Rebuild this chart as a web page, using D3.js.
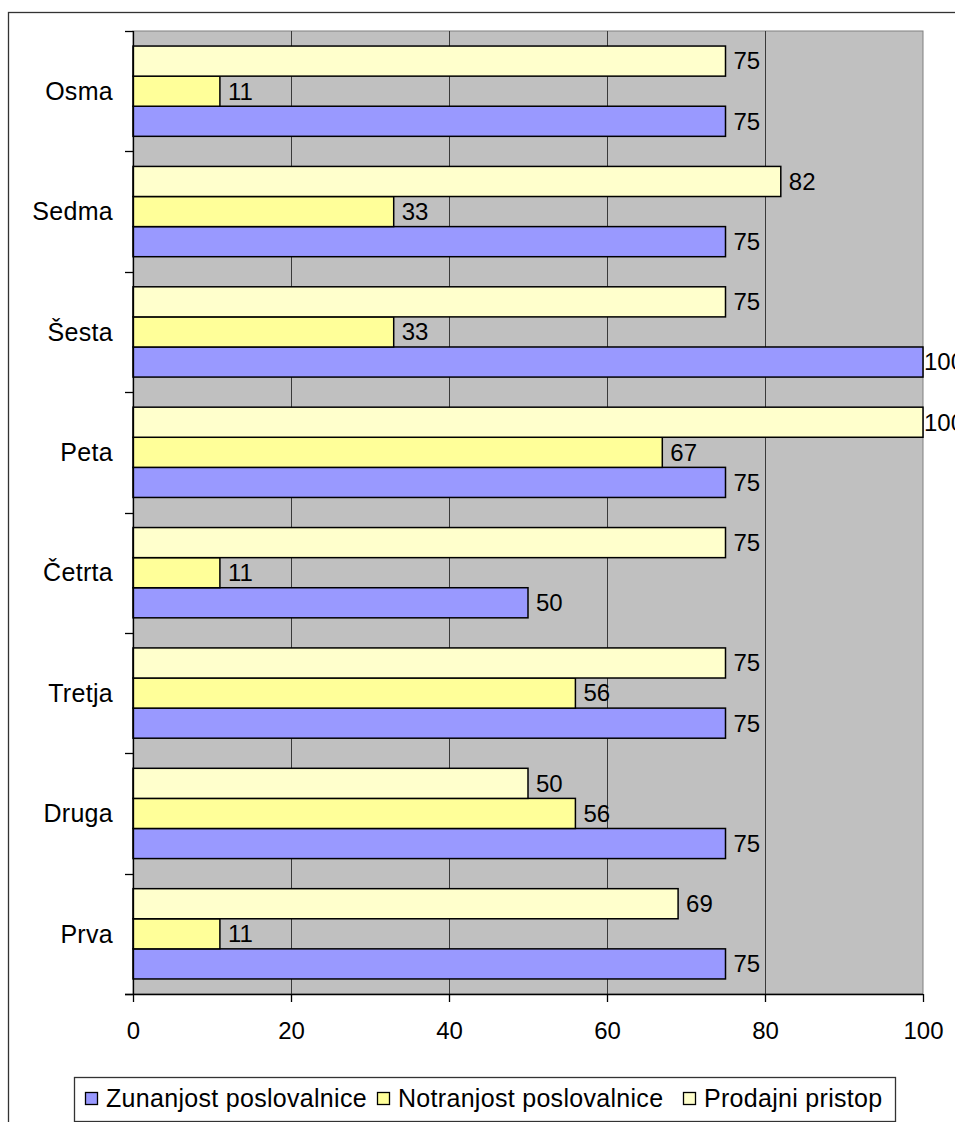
<!DOCTYPE html>
<html>
<head>
<meta charset="utf-8">
<script src="https://cdn.jsdelivr.net/npm/d3@7"></script>
<style>
  html, body { margin: 0; padding: 0; background: #fff; }
  svg { display: block; font-family: "Liberation Sans", Arial, sans-serif; }
</style>
</head>
<body>
<svg id="chart" width="955" height="1122"></svg>
<script>
// Categories (bottom to top as shown on the axis)
const categories = ["Prva", "Druga", "Tretja", "Četrta", "Peta", "Šesta", "Sedma", "Osma"];

// Series values, in category order
const zunanjost  = [75, 75, 75, 50, 75, 100, 75, 75];
const notranjost = [11, 56, 56, 11, 67, 33, 33, 11];
const prodajni   = [69, 50, 75, 75, 100, 75, 82, 75];

const seriesNames = ["Zunanjost poslovalnice", "Notranjost poslovalnice", "Prodajni pristop"];
const seriesValues = [zunanjost, notranjost, prodajni];
const seriesColors = ["#9999FF", "#FFFF99", "#FFFFCC"];

const xTicks = [0, 20, 40, 60, 80, 100];

const svg = d3.select("#chart");
const plot = { left: 133, right: 923, top: 31, bottom: 994 };
const numSize = 24;
const textSize = 25;

// Outer chart frame (runs off the right and bottom edges)
svg.append("rect")
  .attr("x", 8.5).attr("y", 12.5)
  .attr("width", 1000).attr("height", 1200)
  .attr("fill", "#fff").attr("stroke", "#333").attr("stroke-width", 1.3);

const x = d3.scaleLinear().domain([0, 100]).range([plot.left, plot.right]);
const y = d3.scaleBand()
  .domain(categories.slice().reverse())
  .range([plot.top, plot.bottom])
  .paddingInner(0).paddingOuter(0);

// Within each category: Prodajni on top, then Notranjost, then Zunanjost
const yInner = d3.scaleBand()
  .domain([2, 1, 0])
  .range([0, y.bandwidth()])
  .paddingInner(0).paddingOuter(0.5);

// Plot background
svg.append("rect")
  .attr("x", plot.left).attr("y", plot.top)
  .attr("width", plot.right - plot.left).attr("height", plot.bottom - plot.top)
  .attr("fill", "#C0C0C0").attr("stroke", "#808080").attr("stroke-width", 1);

// Vertical gridlines
svg.append("g")
  .selectAll("line")
  .data(xTicks.filter(t => t > 0 && t < 100))
  .join("line")
  .attr("x1", d => Math.round(x(d)) + 0.5).attr("x2", d => Math.round(x(d)) + 0.5)
  .attr("y1", plot.top).attr("y2", plot.bottom)
  .attr("stroke", "#3a3a3a").attr("stroke-width", 1);

// Bars
const rows = [];
categories.forEach((c, i) => {
  seriesValues.forEach((vals, s) => rows.push({ cat: c, s, v: vals[i] }));
});

svg.append("g")
  .selectAll("rect")
  .data(rows)
  .join("rect")
  .attr("x", x(0))
  .attr("y", d => y(d.cat) + yInner(d.s))
  .attr("width", d => x(d.v) - x(0))
  .attr("height", yInner.bandwidth())
  .attr("fill", d => seriesColors[d.s])
  .attr("stroke", "#000").attr("stroke-width", 1.5);

// Value labels (kept from drifting past the plot's right edge)
svg.append("g")
  .selectAll("text")
  .data(rows)
  .join("text")
  .attr("x", d => Math.min(x(d.v) + 8, plot.right + 1))
  .attr("y", d => y(d.cat) + yInner(d.s) + yInner.bandwidth() / 2)
  .attr("dy", "0.35em")
  .attr("font-size", numSize)
  .attr("fill", "#000")
  .text(d => d.v);

// Bottom axis
const xAxis = svg.append("g")
  .attr("transform", `translate(0,${plot.bottom})`)
  .call(d3.axisBottom(x).tickValues(xTicks).tickSize(8).tickPadding(20).tickSizeOuter(0));
xAxis.select(".domain").attr("stroke", "#000").attr("stroke-width", 1.3)
  .attr("d", `M${plot.left - 8},0.5H${plot.right}`);
xAxis.selectAll(".tick line").attr("stroke", "#000").attr("stroke-width", 1.3);
xAxis.selectAll(".tick text")
  .attr("font-size", numSize).attr("font-family", "Liberation Sans, Arial, sans-serif")
  .attr("fill", "#000");

// Left axis: category ticks sit on band boundaries
const yAxis = svg.append("g").attr("transform", `translate(${plot.left},0)`);
yAxis.append("line")
  .attr("x1", 0.5).attr("x2", 0.5)
  .attr("y1", plot.top).attr("y2", plot.bottom)
  .attr("stroke", "#000").attr("stroke-width", 1.3);
const boundaries = categories.map(c => y(c)).concat([plot.bottom]);
yAxis.selectAll("line.tk")
  .data(boundaries)
  .join("line").attr("class", "tk")
  .attr("x1", -8).attr("x2", 0)
  .attr("y1", d => Math.round(d) + 0.5).attr("y2", d => Math.round(d) + 0.5)
  .attr("stroke", "#000").attr("stroke-width", 1.3);
yAxis.selectAll("text")
  .data(categories)
  .join("text")
  .attr("x", -20)
  .attr("y", d => y(d) + y.bandwidth() / 2)
  .attr("dy", "0.35em")
  .attr("text-anchor", "end")
  .attr("font-size", textSize)
  .attr("letter-spacing", 0.3)
  .attr("fill", "#000")
  .text(d => d);

// Legend
const legend = svg.append("g");
legend.append("rect")
  .attr("x", 74.5).attr("y", 1077.5)
  .attr("width", 821).attr("height", 44)
  .attr("fill", "#fff").attr("stroke", "#333").attr("stroke-width", 1.3);
const legendX = [85, 377, 683];
seriesNames.forEach((name, i) => {
  const g = legend.append("g").attr("transform", `translate(${legendX[i]},0)`);
  g.append("rect")
    .attr("x", 0.5).attr("y", 1092.5).attr("width", 12).attr("height", 12)
    .attr("fill", seriesColors[i]).attr("stroke", "#000").attr("stroke-width", 1.3);
  g.append("text")
    .attr("x", 21).attr("y", 1098).attr("dy", "0.35em")
    .attr("font-size", textSize).attr("letter-spacing", 0.3).attr("fill", "#000")
    .text(name);
});
</script>
</body>
</html>
